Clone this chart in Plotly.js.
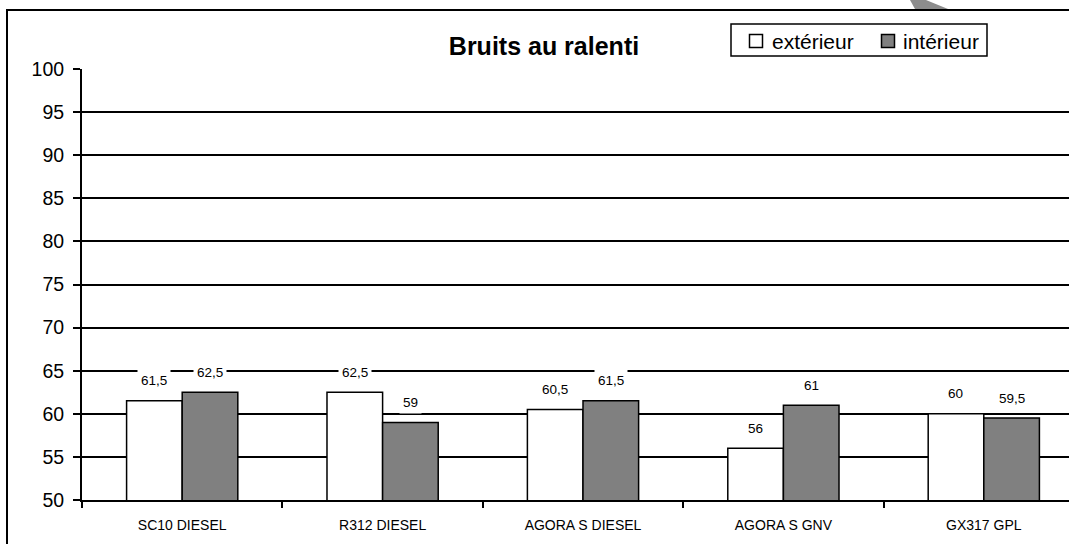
<!DOCTYPE html>
<html>
<head>
<meta charset="utf-8">
<script src="https://cdn.plot.ly/plotly-3.0.1.min.js"></script>
<style>
html,body{margin:0;padding:0;overflow:hidden;background:#fff;}
#chart{width:1100px;height:560px;}
</style>
</head>
<body>
<div id="chart"></div>
<script>
const categories = ["SC10 DIESEL", "R312 DIESEL", "AGORA S DIESEL", "AGORA S GNV", "GX317 GPL"];
const exterieur = [61.5, 62.5, 60.5, 56, 60];
const interieur = [62.5, 59, 61.5, 61, 59.5];
const seriesNames = ["extérieur", "intérieur"];
const seriesColors = ["#ffffff", "#808080"];
const yTicks = [50, 55, 60, 65, 70, 75, 80, 85, 90, 95, 100];

const W = 1100, H = 560;
const L = 82, T = 69, PW = 1002, PH = 431;
const font = "Arial, 'Liberation Sans', sans-serif";
const px = x => (x - L) / PW;
const py = y => (T + PH - y) / PH;

const traces = [exterieur, interieur].map((vals, s) => ({
  type:'bar', name:seriesNames[s], x:categories, y:vals,
  marker:{color:seriesColors[s], line:{color:'#000', width:1.5}}, hoverinfo:'x+y', showlegend:false
}));

const fmt = v => String(v).replace('.', ',');
const annotations = [];
const half = PW / categories.length * (1 - 0.445) / 4;
[exterieur, interieur].forEach((vals, s) => {
  vals.forEach((v, i) => {
    annotations.push({
      x: categories[i], y: v, xref:'x', yref:'y',
      text: fmt(v), showarrow:false,
      xshift: s === 0 ? -half : half, yshift: 20,
      yanchor:'middle', xanchor:'center',
      bgcolor:'#ffffff', borderpad:3,
      font:{family:font, size:13.5, color:'#000'}
    });
  });
});

const shapes = [
  {type:'rect', xref:'paper', yref:'paper', x0:px(7), x1:px(1200), y0:py(10), y1:py(700),
   line:{color:'#000', width:2}, fillcolor:'rgba(0,0,0,0)', layer:'above'},
  {type:'path', xref:'paper', yref:'paper',
   path:`M ${px(910)} ${py(0)} L ${px(926)} ${py(0)} L ${px(948)} ${py(9)} L ${px(915)} ${py(9)} Z`,
   fillcolor:'#8c8c8c', line:{width:0}},
  // legend box
  {type:'rect', xref:'paper', yref:'paper', x0:px(731), x1:px(987), y0:py(24), y1:py(56),
   line:{color:'#000', width:1.5}, fillcolor:'#fff', layer:'above'}
];

// manual legend entries
const legendSym = [756, 888];
const legendText = [770, 901];
seriesNames.forEach((n, s) => {
  shapes.push({type:'rect', xref:'paper', yref:'paper',
    x0:px(legendSym[s]-6.5), x1:px(legendSym[s]+6.5), y0:py(34.5), y1:py(47.5),
    line:{color:'#000', width:1.5}, fillcolor:seriesColors[s], layer:'above'});
  annotations.push({xref:'paper', yref:'paper', x:px(legendText[s]), y:py(41),
    xanchor:'left', yanchor:'middle', text:n, showarrow:false,
    font:{family:font, size:21, color:'#000'}});
});

const layout = {
  width: W, height: H,
  margin:{l:L, t:T, r:W-L-PW, b:H-T-PH, pad:0},
  paper_bgcolor:'#fff', plot_bgcolor:'#fff',
  font:{family:font, color:'#000'},
  title:{text:'<b>Bruits au ralenti</b>', x:px(544), xanchor:'center', xref:'paper',
         y:1 - 46/H, yanchor:'middle', yref:'container',
         font:{family:font, size:25, color:'#000'}},
  barmode:'group', bargap:0.445, bargroupgap:0,
  xaxis:{type:'category', showgrid:false, showline:true, linecolor:'#000', linewidth:2,
         ticks:'outside', tickson:'boundaries', ticklen:6, tickwidth:1.5, tickcolor:'#000',
         ticklabelstandoff:11, tickfont:{family:font, size:14, color:'#000'}, fixedrange:true},
  yaxis:{range:[50, 100], tickvals:yTicks, ticktext:yTicks.map(String),
         showgrid:true, gridcolor:'#000', gridwidth:1.5, zeroline:false,
         showline:true, linecolor:'#000', linewidth:2,
         ticks:'outside', ticklen:7, tickwidth:1.5, tickcolor:'#000',
         ticklabelstandoff:5, tickfont:{family:font, size:19.5, color:'#000'}, fixedrange:true},
  showlegend:false,
  hovermode:false,
  annotations: annotations,
  shapes: shapes
};

Plotly.newPlot('chart', traces, layout, {displayModeBar:false});
</script>
</body>
</html>
